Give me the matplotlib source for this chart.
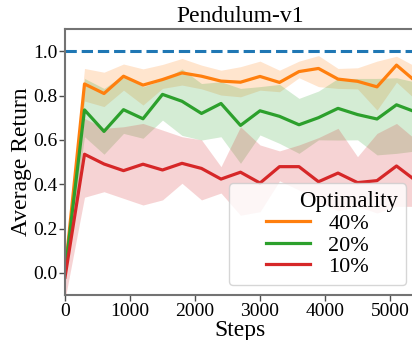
import matplotlib
matplotlib.use('Agg')
import matplotlib.pyplot as plt
from matplotlib.offsetbox import HPacker, DrawingArea

plt.rcParams['font.family'] = 'serif'
plt.rcParams['font.serif'] = ['Liberation Serif', 'DejaVu Serif']

# data
steps = [0, 300, 600, 900, 1200, 1500, 1800, 2100, 2400, 2700,
         3000, 3300, 3600, 3900, 4200, 4500, 4800, 5100, 5400]

opt40_mean = [0.00, 0.852, 0.809, 0.887, 0.847, 0.872, 0.902, 0.887, 0.865, 0.860,
              0.886, 0.859, 0.908, 0.922, 0.874, 0.864, 0.839, 0.937, 0.862]
opt40_lo = [-0.03, 0.775, 0.750, 0.824, 0.757, 0.832, 0.847, 0.830, 0.802, 0.794,
            0.824, 0.817, 0.880, 0.840, 0.832, 0.830, 0.734, 0.860, 0.780]
opt40_hi = [0.03, 0.922, 0.905, 0.942, 0.920, 0.940, 0.967, 0.937, 0.914, 0.930,
            0.955, 0.914, 0.955, 0.980, 0.922, 0.925, 0.955, 0.977, 0.930]

opt20_mean = [0.00, 0.735, 0.638, 0.736, 0.695, 0.805, 0.774, 0.719, 0.764, 0.665,
              0.731, 0.706, 0.668, 0.700, 0.742, 0.714, 0.694, 0.758, 0.725]
opt20_lo = [-0.03, 0.614, 0.535, 0.629, 0.607, 0.689, 0.620, 0.599, 0.614, 0.494,
            0.622, 0.584, 0.539, 0.600, 0.599, 0.600, 0.532, 0.539, 0.550]
opt20_hi = [0.03, 0.877, 0.832, 0.892, 0.839, 0.870, 0.920, 0.854, 0.862, 0.832,
            0.840, 0.850, 0.787, 0.820, 0.877, 0.877, 0.877, 0.880, 0.860]

opt10_mean = [-0.02, 0.535, 0.491, 0.461, 0.490, 0.464, 0.494, 0.471, 0.423, 0.454,
              0.405, 0.479, 0.479, 0.411, 0.450, 0.407, 0.416, 0.482, 0.415]
opt10_lo = [-0.12, 0.341, 0.366, 0.336, 0.306, 0.329, 0.404, 0.329, 0.360, 0.260,
            0.276, 0.415, 0.374, 0.320, 0.280, 0.300, 0.270, 0.300, 0.300]
opt10_hi = [0.06, 0.697, 0.652, 0.659, 0.674, 0.644, 0.614, 0.600, 0.479, 0.659,
            0.577, 0.550, 0.577, 0.610, 0.652, 0.524, 0.629, 0.674, 0.600]

labels = ['40%', '20%', '10%']
colors = ['#ff7f0e', '#2ca02c', '#d62728']
means = [opt40_mean, opt20_mean, opt10_mean]
lows = [opt40_lo, opt20_lo, opt10_lo]
highs = [opt40_hi, opt20_hi, opt10_hi]

fig = plt.figure(figsize=(4.12, 3.4), dpi=100)
ax = fig.add_axes([65/412., 45/340., 351/412., 266/340.])

ax.axhline(1.0, color='#1f77b4', linestyle='--', linewidth=2.2, zorder=1)

for m, lo, hi, c, lab in zip(means, lows, highs, colors, labels):
    ax.fill_between(steps, lo, hi, color=c, alpha=0.2, linewidth=0)
    ax.plot(steps, m, color=c, linewidth=2.3, label=lab)

ax.set_xlim(0, 5400)
ax.set_ylim(-0.1, 1.1)
ax.set_xticks([0, 1000, 2000, 3000, 4000, 5000])
ax.set_yticks([0.0, 0.2, 0.4, 0.6, 0.8, 1.0])
ax.set_yticklabels(['0.0', '0.2', '0.4', '0.6', '0.8', '1.0'])
ax.tick_params(labelsize=14, length=4, width=1, color='0.3', pad=1.5)

for sp in ax.spines.values():
    sp.set_color('0.45')
    sp.set_linewidth(1.5)

ax.set_title('Pendulum-v1', fontsize=17, pad=5)
ax.set_xlabel('Steps', fontsize=17, labelpad=0)
ax.set_ylabel('Average Return', fontsize=17, labelpad=1)

leg = ax.legend(title='Optimality', loc='lower right', fontsize=16,
                title_fontsize=16.5, handlelength=2.0, labelspacing=0.05,
                borderaxespad=0.45, borderpad=0.35)
# title sits right of centre in the reference box
title_row = HPacker(children=[DrawingArea(45, 1), leg._legend_title_box],
                    pad=0, sep=0, align='baseline')
title_row.set_figure(fig)
leg._legend_box._children[0] = title_row

fig.savefig('out.png', dpi=100)
